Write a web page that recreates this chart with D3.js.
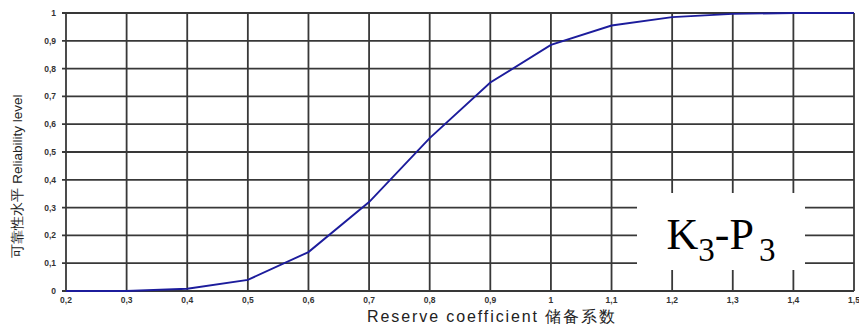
<!DOCTYPE html>
<html>
<head>
<meta charset="utf-8">
<script src="https://cdn.jsdelivr.net/npm/d3@7"></script>
<style>
  body { margin: 0; background: #fff; }
  svg { display: block; }
</style>
</head>
<body>
<svg id="chart" width="859" height="324"></svg>
<script>
(function () {
  "use strict";

  // reserve coefficient (x) vs reliability level (y)
  const reserve = [0.2, 0.3, 0.4, 0.5, 0.6, 0.7, 0.8, 0.9, 1.0, 1.1, 1.2, 1.3, 1.4, 1.5]
  const reliability = [0, 0, 0.008, 0.04, 0.14, 0.32, 0.55, 0.75, 0.885, 0.955, 0.985, 0.997, 1, 1]
  const xTicks = [0.2, 0.3, 0.4, 0.5, 0.6, 0.7, 0.8, 0.9, 1.0, 1.1, 1.2, 1.3, 1.4, 1.5]
  const yTicks = [0, 0.1, 0.2, 0.3, 0.4, 0.5, 0.6, 0.7, 0.8, 0.9, 1]

  let svg = d3.select("#chart")

  let x = d3.scaleLinear().domain([0.2, 1.5]).range([66, 854])
  let y = d3.scaleLinear().domain([0, 1]).range([291, 13])

  let fmt = d => String(+d.toFixed(1)).replace(".", ",")

  let grid = svg.append("g")
    .attr("stroke", "#383838")
    .attr("stroke-width", 1.8)

  grid.selectAll("line.v").data(xTicks).join("line")
    .attr("class", "v")
    .attr("x1", d => x(d)).attr("x2", d => x(d))
    .attr("y1", y(1)).attr("y2", y(0))

  grid.selectAll("line.h").data(yTicks).join("line")
    .attr("class", "h")
    .attr("x1", x(0.2) - 4).attr("x2", x(1.5))
    .attr("y1", d => y(d)).attr("y2", d => y(d))

  svg.append("g").selectAll("text").data(yTicks).join("text")
    .attr("x", 56).attr("y", d => y(d) + 3)
    .attr("text-anchor", "end")
    .attr("font-family", "Liberation Sans, Arial, sans-serif")
    .attr("font-size", 8.5)
    .attr("font-weight", "bold")
    .attr("fill", "#333")
    .text(fmt)

  svg.append("g").selectAll("text").data(xTicks).join("text")
    .attr("x", d => x(d)).attr("y", 303)
    .attr("text-anchor", "middle")
    .attr("font-family", "Liberation Sans, Arial, sans-serif")
    .attr("font-size", 8.5)
    .attr("font-weight", "bold")
    .attr("fill", "#333")
    .text(fmt)

  let line = d3.line()
    .x((d, i) => x(reserve[i]))
    .y(d => y(d))

  svg.append("path")
    .datum(reliability)
    .attr("d", line)
    .attr("fill", "none")
    .attr("stroke", "#1c1c9c")
    .attr("stroke-width", 1.9)

  // label box
  svg.append("rect")
    .attr("x", 637).attr("y", 193)
    .attr("width", 168).attr("height", 77)
    .attr("fill", "#fff")

  let lab = svg.append("text")
    .attr("x", 721).attr("y", 249)
    .attr("text-anchor", "middle")
    .attr("font-family", "Liberation Serif, Times New Roman, serif")
    .attr("font-size", 44)
    .attr("fill", "#000")
  lab.append("tspan").text("K")
  lab.append("tspan").attr("font-size", 33).attr("dy", 12).text("3")
  lab.append("tspan").attr("dy", -12).text("-P")
  lab.append("tspan").attr("font-size", 33).attr("dy", 12).attr("dx", 5).text("3")

  svg.append("text")
    .attr("x", 492).attr("y", 322)
    .attr("text-anchor", "middle")
    .attr("font-family", "Liberation Sans, Arial, sans-serif")
    .attr("font-size", 16)
    .attr("letter-spacing", 1.9)
    .attr("fill", "#222")
    .text("Reserve coefficient 储备系数")

  svg.append("text")
    .attr("transform", "translate(22,176) rotate(-90)")
    .attr("text-anchor", "middle")
    .attr("font-family", "Liberation Sans, Arial, sans-serif")
    .attr("font-size", 13.5)
    .attr("fill", "#222")
    .text("可靠性水平 Reliability level")
})();
</script>
</body>
</html>
